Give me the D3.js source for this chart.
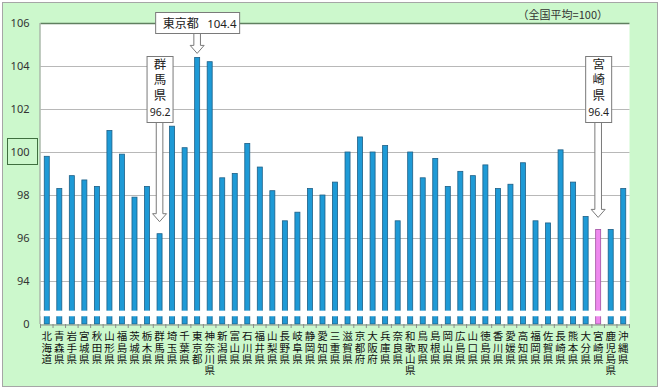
<!DOCTYPE html>
<html>
<head>
<meta charset="utf-8">
<script src="https://cdn.jsdelivr.net/npm/d3@7"></script>
<style>
  html, body { margin: 0; padding: 0; background: #fff; }
  svg { display: block; font-family: "Noto Sans CJK JP", "Noto Sans", sans-serif; }
  .vert { writing-mode: vertical-rl; text-orientation: upright; }
</style>
</head>
<body>
<svg id="chart" width="660" height="390"></svg>
<script>
// prefectures (labels are stacked one char per line)
const prefectures = ['北海道','青森県','岩手県','宮城県','秋田県','山形県','福島県','茨城県','栃木県','群馬県',
  '埼玉県','千葉県','東京都','神奈川県','新潟県','富山県','石川県','福井県','山梨県','長野県',
  '岐阜県','静岡県','愛知県','三重県','滋賀県','京都府','大阪府','兵庫県','奈良県','和歌山県',
  '鳥取県','島根県','岡山県','広島県','山口県','徳島県','香川県','愛媛県','高知県','福岡県',
  '佐賀県','長崎県','熊本県','大分県','宮崎県','鹿児島県','沖縄県'];
const indexValues = [99.8, 98.3, 98.9, 98.7, 98.4, 101.0, 99.9, 97.9, 98.4, 96.2,
  101.2, 100.2, 104.4, 104.2, 98.8, 99.0, 100.4, 99.3, 98.2, 96.8,
  97.2, 98.3, 98.0, 98.6, 100.0, 100.7, 100.0, 100.3, 96.8, 100.0,
  98.8, 99.7, 98.4, 99.1, 98.9, 99.4, 98.3, 98.5, 99.5, 96.8,
  96.7, 100.1, 98.6, 97.0, 96.4, 96.4, 98.3];
const yTicks = [92, 94, 96, 98, 100, 102, 104, 106];
const highlight = '宮崎県';
const callouts = [
  {name: '東京都', label: '104.4', kind: 'wide'},
  {name: '群馬県', label: '96.2', kind: 'tall'},
  {name: '宮崎県', label: '96.4', kind: 'tall'}
];
const unitNote = '（全国平均=100）';

const data = prefectures.map((p, i) => ({name: p, value: indexValues[i]}));

const svg = d3.select('#chart');
const plotLeft = 40.5, plotRight = 629.5, plotTop = 23, plotBottom = 324;

// background
svg.append('rect').attr('x', 2.5).attr('y', 2.5).attr('width', 655).attr('height', 384)
  .attr('fill', '#ccf8cc').attr('stroke', '#a6a6a6');
svg.append('rect').attr('x', plotLeft).attr('y', plotTop).attr('width', plotRight - plotLeft)
  .attr('height', plotBottom - plotTop).attr('fill', '#fff');

const x = d3.scaleBand().domain(prefectures).range([plotLeft, plotRight]).paddingInner(0.52).paddingOuter(0.26);
const y = d3.scaleLinear().domain([92, 106]).range([plotBottom, plotTop]);

// grid
svg.append('g').selectAll('line').data(yTicks.slice(1)).enter().append('line')
  .attr('x1', plotLeft).attr('x2', plotRight)
  .attr('y1', d => Math.round(y(d)) + 0.5).attr('y2', d => Math.round(y(d)) + 0.5)
  .attr('stroke', d => d === 106 ? '#5f7f5f' : '#b8b8b8').attr('stroke-width', d => d === 106 ? 1.3 : 1);
svg.append('line').attr('x1', plotLeft - 0.5).attr('x2', plotLeft - 0.5).attr('y1', plotTop).attr('y2', plotBottom)
  .attr('stroke', '#9a9a9a');

// bars
svg.append('g').selectAll('rect').data(data).enter().append('rect')
  .attr('x', d => x(d.name) + 0.5)
  .attr('y', d => y(d.value))
  .attr('width', x.bandwidth() - 1)
  .attr('height', d => y(92) - y(d.value))
  .attr('fill', d => d.name === highlight ? '#ee88ee' : '#1e9ad6')
  .attr('stroke', d => d.name === highlight ? '#a050a0' : '#1d5f86')
  .attr('stroke-width', 0.8);

// axis break
svg.append('rect').attr('x', plotLeft).attr('y', y(92.62)).attr('width', plotRight - plotLeft)
  .attr('height', y(92.36) - y(92.62)).attr('fill', '#fff');

// y axis
const axisY = d3.axisLeft(y).tickValues(yTicks).tickSize(0)
  .tickFormat(d => d === 92 ? '0' : d);
const gy = svg.append('g').attr('transform', 'translate(' + (plotLeft - 8) + ',0)').call(axisY);
gy.select('.domain').remove();
gy.selectAll('text').attr('font-size', 11).attr('fill', '#333')
  .attr('font-family', '"Noto Sans", sans-serif');

// box around 100
svg.append('rect').attr('x', 7.5).attr('y', y(100) - 13.5).attr('width', 30).attr('height', 26)
  .attr('fill', 'none').attr('stroke', '#3f6f3f');

// x axis
const axisX = d3.axisBottom(x).tickSize(0).tickFormat('');
const gx = svg.append('g').attr('transform', 'translate(0,' + (plotBottom + 0.5) + ')').call(axisX);
gx.select('.domain').attr('stroke', '#8a8a8a');
const step = x.step();
svg.append('g').selectAll('line').data(d3.range(prefectures.length + 1)).enter().append('line')
  .attr('x1', i => plotLeft + i * step).attr('x2', i => plotLeft + i * step)
  .attr('y1', plotBottom).attr('y2', plotBottom + 4).attr('stroke', '#8a8a8a');

// category labels, vertical writing
svg.append('g').selectAll('text').data(prefectures).enter().append('text')
  .attr('class', 'vert')
  .attr('font-size', 10.5).attr('fill', '#111').attr('letter-spacing', 0.8)
  .attr('x', d => x(d) + x.bandwidth() / 2)
  .attr('y', 331)
  .text(d => d);

// unit note
svg.append('text').attr('x', 608).attr('y', 19).attr('text-anchor', 'end')
  .attr('font-size', 11).attr('fill', '#333').text(unitNote);

// callouts
function arrowPath(cx, y0, tip) {
  const s = 3.3, h = 7;
  return 'M' + (cx - s) + ',' + y0 + 'V' + (tip - 8) + 'H' + (cx - h) + 'L' + cx + ',' + tip +
    'L' + (cx + h) + ',' + (tip - 8) + 'H' + (cx + s) + 'V' + y0;
}
const cg = svg.append('g');
callouts.forEach(c => {
  const d = data.find(e => e.name === c.name);
  const cx = x(d.name) + x.bandwidth() / 2;
  if (c.kind === 'wide') {
    const tip = y(d.value) - 4;
    cg.append('path').attr('d', arrowPath(cx, 33, tip)).attr('fill', '#fff').attr('stroke', '#7a7a7a');
    cg.append('rect').attr('x', cx - 41.5).attr('y', 12.5).attr('width', 84).attr('height', 21)
      .attr('fill', '#fff').attr('stroke', '#7a7a7a');
    cg.append('text').attr('x', cx - 34.5).attr('y', 28).attr('font-size', 12).attr('fill', '#222')
      .text(c.name);
    cg.append('text').attr('x', cx + 10).attr('y', 28).attr('font-size', 11.5).attr('fill', '#222')
      .attr('font-family', '"Noto Sans", sans-serif').text(c.label);
  } else {
    const tip = y(d.value) - 12;
    cg.append('path').attr('d', arrowPath(cx, 122, tip)).attr('fill', '#fff').attr('stroke', '#7a7a7a');
    cg.append('rect').attr('x', cx - 12.5).attr('y', 56.5).attr('width', 26).attr('height', 66)
      .attr('fill', '#fff').attr('stroke', '#7a7a7a');
    cg.append('text').attr('class', 'vert').attr('x', cx + 0.5).attr('y', 57.5)
      .attr('font-size', 12.5).attr('letter-spacing', 3).attr('fill', '#222').text(c.name);
    cg.append('text').attr('text-anchor', 'middle').attr('x', cx + 0.5).attr('y', 115.5)
      .attr('font-size', 10.5).attr('fill', '#222')
      .attr('font-family', '"Noto Sans", sans-serif').text(c.label);
  }
});
</script>
</body>
</html>
